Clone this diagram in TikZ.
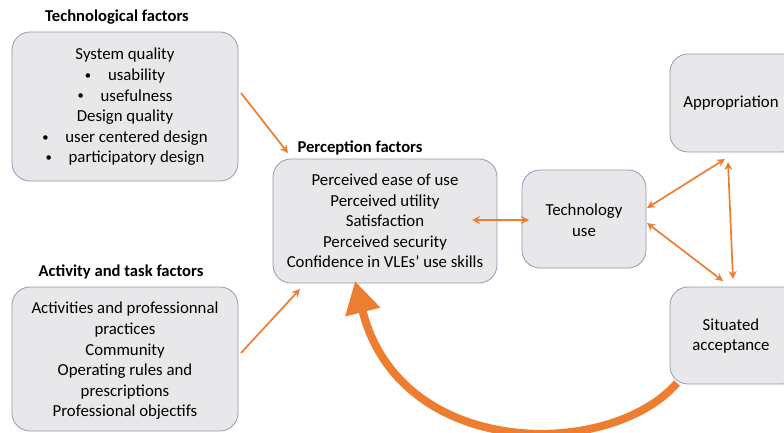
\documentclass[tikz,border=0pt]{standalone}
\usepackage{fontspec}
\setmainfont{Carlito}
\usetikzlibrary{arrows.meta}
\definecolor{org}{HTML}{ED7D31}
\definecolor{boxfill}{HTML}{E8E8EA}
\definecolor{boxline}{HTML}{8E9DB3}
\newcommand{\smbul}{\raisebox{0.15ex}{\scalebox{0.75}{\textbullet}}}
\tikzset{
  fbox/.style={draw=boxline, fill=boxfill, rounded corners=18pt, line width=0.8pt},
  head/.style={font=\fontsize{16.6}{18}\selectfont\bfseries, anchor=center},
  body/.style={font=\fontsize{16.8}{20.6}\selectfont, align=center, anchor=center},
  conn/.style={draw=org, line width=1.7pt, -{Stealth[length=8pt,width=8pt]}},
  biconn/.style={draw=org, line width=1.7pt, {Stealth[length=8pt,width=8pt]}-{Stealth[length=8pt,width=8pt]}},
}
\begin{document}
\begin{tikzpicture}[x=1pt,y=-1pt]
\useasboundingbox (0,0) rectangle (784,433);
% boxes
\draw[fbox] (12,32) rectangle (238,181);
\draw[fbox] (12,287) rectangle (238,431);
\draw[fbox] (273,159) rectangle (497,283);
\draw[fbox] (522,170) rectangle (646,268);
\draw[fbox] (670,54) rectangle (800,152);
\draw[fbox] (670,287) rectangle (800,384);
% headings
\node[head] (h1) at (117,17) {Technological factors};
\node[head] (h2) at (121,272) {Activity and task factors};
\node[head] (h3) at (360,148) {Perception factors};
% texts
\node[body] (t1) at (125,107) {System quality\\ \smbul\quad usability\\ \smbul\quad usefulness\\ Design quality\\ \smbul\quad user centered design\\ \smbul\quad participatory design};
\node[body] (t2) at (125,361) {Activities and professionnal\\ practices\\ Community\\ Operating rules and\\ prescriptions\\ Professional objectifs};
\node[body] (t3) at (385,221) {Perceived ease of use\\ Perceived utility\\ Satisfaction\\ Perceived security\\ Confidence in VLEs’ use skills};
\node[body] (t4) at (584,220) {Technology\\ use};
\node[body] (t5) at (731,103) {Appropriation};
\node[body] (t6) at (731,336) {Situated\\ acceptance};
% connector anchor points
\coordinate (a1) at (241,93);
\coordinate (b1) at (288,153);
\coordinate (a2) at (241,353);
\coordinate (b2) at (300,289);
\coordinate (p1) at (472,220);
\coordinate (u1) at (529,220);
\coordinate (u2) at (647,208);
\coordinate (ap1) at (725,159);
\coordinate (u3) at (647,223);
\coordinate (s1) at (723,281);
\coordinate (ap2) at (728,162);
\coordinate (s2) at (733,279);
\coordinate (s3) at (677,383);
\coordinate (p2) at (355,281);
\draw[conn] (a1) -- (b1);
\draw[conn] (a2) -- (b2);
\draw[biconn] (p1) -- (u1);
\draw[biconn] (u2) -- (ap1);
\draw[biconn] (u3) -- (s1);
\draw[biconn] (ap2) -- (s2);
\draw[draw=org, line width=8pt, -{Triangle[length=32pt,width=34pt]}] (s3) .. controls (610,460) and (400,460) .. (p2);
\end{tikzpicture}
\end{document}
